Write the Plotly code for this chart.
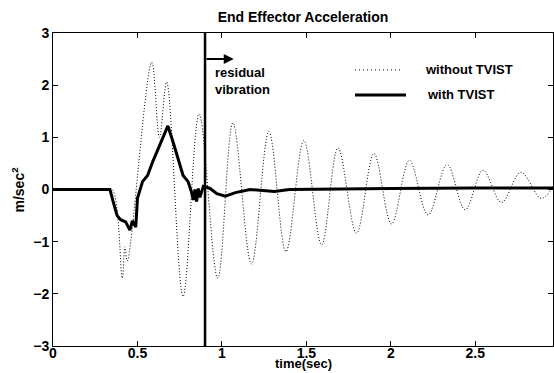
import plotly.graph_objects as go

# ---- data ----
t_without = [0, 0.30, 0.35, 0.41, 0.425, 0.44, 0.584, 0.63, 0.673, 0.77, 0.865, 0.975,
             1.065, 1.175, 1.278, 1.379, 1.485, 1.59, 1.687, 1.797, 1.90, 2.004, 2.11,
             2.22, 2.333, 2.44, 2.546, 2.655, 2.77, 2.89, 2.96]
a_without = [0, 0, 0, -1.70, -1.10, -1.37, 2.44, 1.0, 2.06, -2.05, 1.45, -1.70,
             1.28, -1.43, 1.11, -1.19, 0.94, -1.06, 0.80, -0.84, 0.69, -0.66, 0.56,
             -0.49, 0.48, -0.39, 0.37, -0.25, 0.33, -0.17, 0.05]

t_with = [0, 0.337, 0.367, 0.38, 0.40, 0.43, 0.455, 0.47, 0.49, 0.50, 0.53, 0.56, 0.59,
          0.63, 0.66, 0.68, 0.71, 0.74, 0.77, 0.80, 0.82, 0.83, 0.84, 0.85, 0.86, 0.87,
          0.89, 0.93, 0.97, 1.02, 1.08, 1.166, 1.24, 1.31, 1.40, 1.6, 2.0, 2.5, 2.96]
a_with = [0, 0, -0.36, -0.5, -0.58, -0.62, -0.78, -0.6, -0.72, -0.17, 0.15, 0.27, 0.53,
          0.84, 1.1, 1.22, 0.92, 0.6, 0.27, 0.15, -0.05, -0.2, 0.0, -0.23, 0.02, -0.15,
          0.06, 0.02, -0.08, -0.13, -0.06, 0.0, -0.02, -0.04, 0.0, 0.01, 0.02, 0.03, 0.03]

residual_start = 0.9
x_ticks = [0, 0.5, 1, 1.5, 2, 2.5]
y_ticks = [-3, -2, -1, 0, 1, 2, 3]
x_range = [0, 2.96]
y_range = [-3, 3]

FONT = "Liberation Sans, Arial, sans-serif"
BOLD13 = dict(family=FONT, size=13, color="black", weight="bold")
BOLD14 = dict(family=FONT, size=14, color="black", weight="bold")

fig = go.Figure()
fig.add_trace(go.Scatter(x=t_without, y=a_without, mode="lines", name="without TVIST",
                         line=dict(color="black", width=1, dash="1px,2px",
                                   shape="spline", smoothing=1.0)))
fig.add_trace(go.Scatter(x=t_with, y=a_with, mode="lines", name="with TVIST",
                         line=dict(color="black", width=3)))

# vertical line marking start of residual vibration
fig.add_shape(type="line", x0=residual_start, x1=residual_start, y0=y_range[0], y1=y_range[1],
              xref="x", yref="y", line=dict(color="black", width=2.5))
fig.add_annotation(x=1.07, y=2.5, ax=residual_start, ay=2.5, xref="x", yref="y",
                   axref="x", ayref="y", text="", showarrow=True, arrowhead=2,
                   arrowsize=1, arrowwidth=2, arrowcolor="black")
fig.add_annotation(x=0.945, y=2.08, xref="x", yref="y", text="residual<br>vibration",
                   showarrow=False, xanchor="left", yanchor="middle", align="left",
                   font=BOLD13)

# manual legend
fig.add_shape(type="line", xref="paper", yref="paper", x0=0.604, x1=0.70, y0=0.882, y1=0.882,
              line=dict(color="black", width=1, dash="1px,3px"))
fig.add_shape(type="line", xref="paper", yref="paper", x0=0.604, x1=0.706, y0=0.802, y1=0.802,
              line=dict(color="black", width=3))
fig.add_annotation(xref="paper", yref="paper", x=0.74, y=0.882, text="without TVIST",
                   showarrow=False, xanchor="left", yanchor="middle", font=BOLD13)
fig.add_annotation(xref="paper", yref="paper", x=0.744, y=0.802, text="with TVIST",
                   showarrow=False, xanchor="left", yanchor="middle", font=BOLD13)

# axis titles as annotations (exact placement)
fig.add_annotation(xref="paper", yref="paper", x=0.5, y=-0.0863, text="time(sec)",
                   showarrow=False, xanchor="center", yanchor="bottom", font=BOLD13)
fig.add_annotation(xref="paper", yref="paper", x=-0.07, y=0.5, text="m/sec<sup>2</sup>",
                   showarrow=False, xanchor="center", yanchor="middle", textangle=-90,
                   font=BOLD14)

axis_common = dict(showgrid=False, zeroline=False, showline=True, linecolor="black",
                   linewidth=1, mirror="ticks", ticks="inside", ticklen=5,
                   tickcolor="black", automargin=False, tickfont=BOLD14)

fig.update_layout(
    width=554, height=373,
    margin=dict(l=53, r=1, t=33, b=27),
    paper_bgcolor="white", plot_bgcolor="white",
    showlegend=False,
    title=dict(text="End Effector Acceleration", x=0.547, xanchor="center", y=0.955,
               yanchor="middle", font=BOLD14),
    xaxis=dict(range=x_range, tickvals=x_ticks, ticktext=[str(v) for v in x_ticks],
               ticklabelstandoff=-6, **axis_common),
    yaxis=dict(range=y_range, tickvals=y_ticks, **axis_common),
)

fig.write_html("out.html", config={"displayModeBar": False},
               post_script="document.body.style.margin='0';document.body.style.overflow='hidden';")
